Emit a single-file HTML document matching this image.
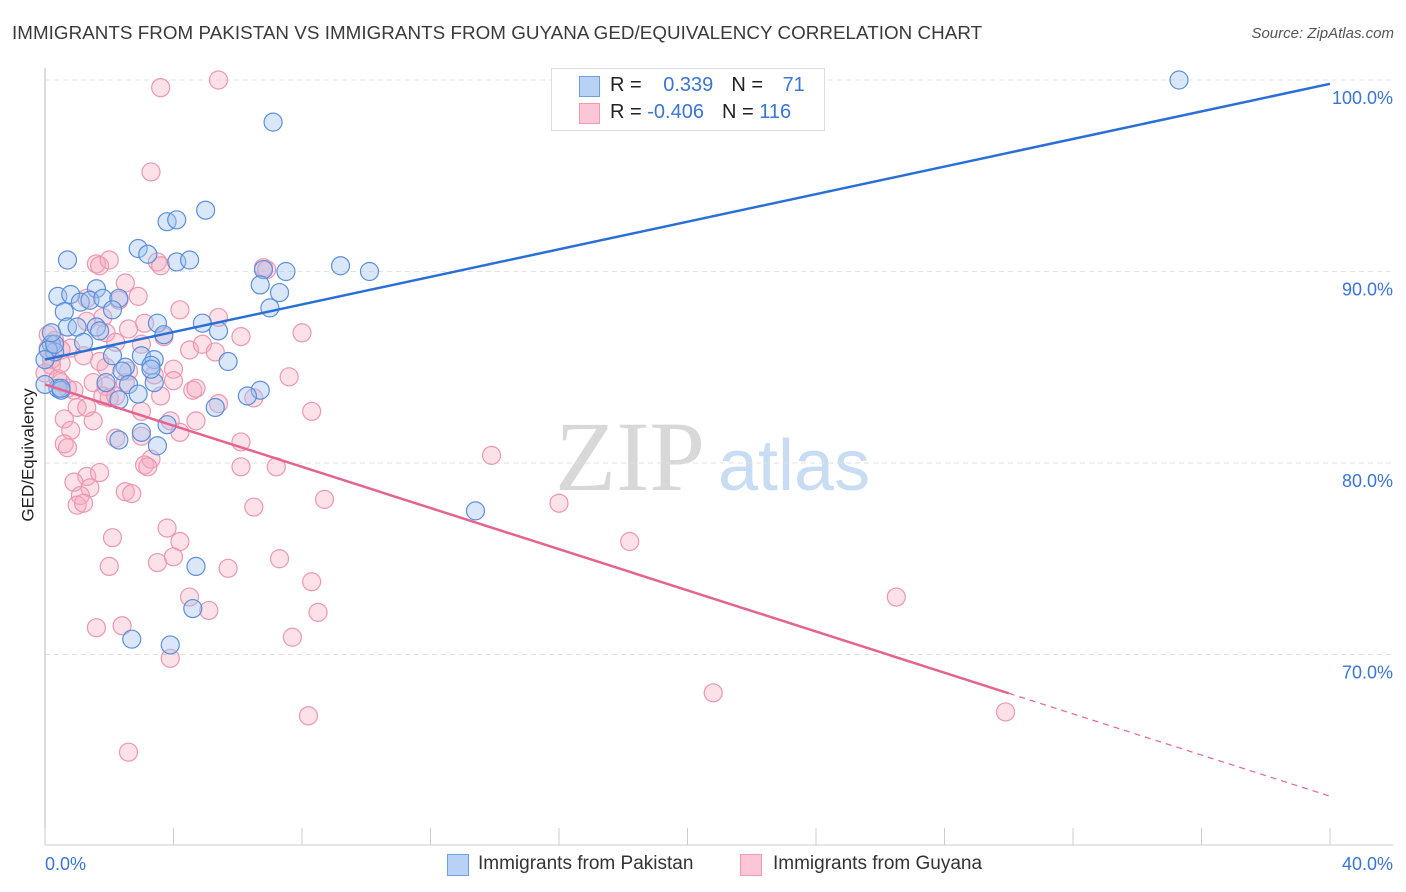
<!DOCTYPE html>
<html><head><meta charset="utf-8"><style>
body{margin:0;background:#fff;font-family:"Liberation Sans",sans-serif;}
#wrap{position:relative;width:1406px;height:892px;overflow:hidden}
.t{position:absolute;white-space:nowrap}
</style></head><body><div id="wrap">
<div class="t" style="left:12px;top:22px;font-size:18.8px;color:#3a3a3a;letter-spacing:0.05px">IMMIGRANTS FROM PAKISTAN VS IMMIGRANTS FROM GUYANA GED/EQUIVALENCY CORRELATION CHART</div>
<div class="t" style="right:12px;top:25px;font-size:15px;color:#555;font-style:italic">Source: ZipAtlas.com</div>
<div class="t" style="left:-38px;top:445px;font-size:17px;color:#222;transform:rotate(-90deg)">GED/Equivalency</div>
<svg id="svg" width="1406" height="892" style="position:absolute;left:0;top:0">
<text x="555" y="490" font-family="Liberation Serif,serif" font-size="100" fill="#d8d8d8">ZIP</text>
<text x="718" y="490" font-family="Liberation Sans,sans-serif" font-size="72" fill="#c8dcf3">atlas</text>
</svg>
<div style="position:absolute;left:551px;top:68px;width:272px;height:61px;border:1px solid #ddd;background:#fff"></div>
<div style="position:absolute;left:579px;top:76px;width:19px;height:19px;background:#b7d2f5;border:1px solid #6f9fe0"></div>
<div style="position:absolute;left:579px;top:103px;width:19px;height:19px;background:#fbc6d5;border:1px solid #ee9ab3"></div>
<div class="t" style="left:610px;top:74px;font-size:20px;color:#222">R = <span style="color:#3a74d4;margin-left:16px">0.339</span><span style="margin-left:18px">N = </span><span style="color:#3a74d4;margin-left:14px">71</span></div>
<div class="t" style="left:610px;top:101px;font-size:20px;color:#222">R = <span style="color:#3a74d4">-0.406</span><span style="margin-left:18px">N = </span><span style="color:#3a74d4">116</span></div>
<div style="position:absolute;left:447px;top:854px;width:20px;height:20px;background:#b7d2f5;border:1px solid #6f9fe0"></div>
<div class="t" style="left:478px;top:853px;font-size:19px;color:#333">Immigrants from Pakistan</div>
<div style="position:absolute;left:740px;top:854px;width:20px;height:20px;background:#fbc6d5;border:1px solid #ee9ab3"></div>
<div class="t" style="left:773px;top:853px;font-size:19px;color:#333">Immigrants from Guyana</div>
</div>
<script>
const yTicks=[100,90,80,70];
const xTickLabels=["0.0%","40.0%"];
const blueX=[16.4,35.3,7.1,5.0,3.8,4.1,2.9,3.2,0.7,4.1,4.5,9.2,7.5,10.1,6.8,0.4,0.8,1.6,1.1,1.4,1.8,2.3,2.1,0.6,7.3,6.7,7.0,4.9,5.4,3.5,3.7,0.7,1.0,1.6,1.2,0.2,0.3,2.1,3.0,3.4,5.7,2.5,3.3,2.4,1.9,2.6,3.4,0.4,0.5,6.7,6.3,5.3,2.3,2.9,3.8,3.0,2.3,3.5,13.4,4.7,4.6,2.7,3.9,0,0.1,0.3,0.5,0.2,3.3,1.7,0];
const blueY=[100,100,97.8,93.2,92.6,92.7,91.2,90.9,90.6,90.5,90.6,90.3,90.0,90.0,90.1,88.7,88.8,89.1,88.4,88.5,88.6,88.6,88.0,87.9,88.9,89.3,88.1,87.3,86.9,87.3,86.7,87.1,87.1,87.1,86.3,86.2,85.8,85.6,85.6,85.4,85.3,85.0,85.1,84.8,84.2,84.1,84.2,83.9,83.8,83.8,83.5,82.9,83.3,83.6,82.0,81.6,81.2,80.9,77.5,74.6,72.4,70.8,70.5,84.1,85.9,86.2,83.9,86.8,84.9,86.9,85.4];
const pinkX=[5.4,3.6,3.3,1.6,1.7,2.0,3.5,3.6,6.8,6.9,2.5,2.9,2.3,4.2,1.3,1.8,1.3,3.1,5.4,8.0,6.1,1.9,3.7,0.8,2.2,4.5,4.9,5.3,0.1,0.3,0.5,0.2,1.9,2.6,4.0,3.4,7.6,1.5,1.9,2.5,4.6,4.7,6.5,5.4,0.5,0.7,0.9,1.8,2.0,1.0,0.6,1.5,3.0,3.9,4.7,4.2,0.8,0.6,0.7,2.2,3.0,6.1,3.3,3.1,3.2,6.1,7.2,13.9,1.3,1.7,0.9,1.4,1.1,1.0,1.2,2.5,2.7,8.7,6.5,16.0,3.8,2.1,4.2,18.2,3.5,4.0,5.7,7.3,2.0,8.3,4.5,5.1,8.5,26.5,1.6,2.4,7.7,3.9,20.8,8.2,29.9,2.6,0.1,0.2,0,0.4,0.5,1.7,2.2,1.3,3.6,3.0,2.6,1.2,4.0,8.3];
const pinkY=[100,99.6,95.2,90.4,90.3,90.6,90.5,90.3,90.2,90.1,89.4,88.7,88.5,88.0,88.6,87.6,87.4,87.3,87.6,86.8,86.6,86.8,86.6,86.0,86.3,85.9,86.2,85.8,86.7,86.4,85.9,85.4,85.0,84.8,84.9,84.6,84.5,84.2,84.0,84.2,83.8,83.9,83.4,83.1,84.2,83.9,83.8,83.5,83.4,82.9,82.3,82.2,82.7,82.2,82.2,81.6,81.7,81.0,80.8,81.3,81.4,81.1,80.2,79.9,79.8,79.8,79.8,80.4,79.3,79.5,79.0,78.7,78.3,77.8,77.9,78.5,78.4,78.1,77.7,77.9,76.6,76.1,75.9,75.9,74.8,75.1,74.5,75.0,74.6,73.8,73.0,72.3,72.2,73.0,71.4,71.5,70.9,69.8,68.0,66.8,67.0,64.9,86.0,85.1,84.7,84.4,85.2,85.3,83.5,82.9,83.5,86.2,87.0,85.6,84.3,82.7];
const blueTrend=[85.4,99.8];   // y at x=0, x=40
const pinkTrend=[84.1,62.6];   // y at x=0, x=40
const pinkSolidEnd=30;
const NS="http://www.w3.org/2000/svg";
const svg=document.getElementById('svg');
const X=v=>45+v*32.125, Y=v=>80+(100-v)*19.15;
function mk(t,a){const e=document.createElementNS(NS,t);for(const k in a)e.setAttribute(k,a[k]);svg.appendChild(e);return e;}
yTicks.forEach(v=>{
 const g=mk('line',{x1:45,x2:1393,y1:Y(v),y2:Y(v),stroke:'#e2e2e2','stroke-dasharray':'5,4'});
 
 
 const t=mk('text',{x:1393,y:Y(v)+24,'text-anchor':'end','font-size':18,fill:'#3a74d4','font-family':'Liberation Sans,sans-serif'});
 t.textContent=v.toFixed(1)+'%';
 
 
});
const ax=mk('line',{x1:45,x2:45,y1:68,y2:845,stroke:'#bbb'});


const bx=mk('line',{x1:45,x2:1393,y1:845,y2:845,stroke:'#ccc'});


for(let i=0;i<=10;i++){const tk=mk('line',{x1:X(i*4),x2:X(i*4),y1:828,y2:845,stroke:'#ccc'});
 
 }
[[0,'start',45],[40,'end',1393]].forEach((d,i)=>{const t=mk('text',{x:d[2],y:870,'text-anchor':d[1],'font-size':18,fill:'#3a74d4','font-family':'Liberation Sans,sans-serif'});
 t.textContent=xTickLabels[i];
 
 });
function dots(xs,ys,fill,stroke,name){xs.forEach((x,i)=>{const c=mk('circle',{cx:X(x),cy:Y(ys[i]),r:9,fill:fill,stroke:stroke,'stroke-width':1.2});
 
 });}
dots(pinkX,pinkY,'rgba(246,168,192,0.35)','#eb97b1','point-guyana');
dots(blueX,blueY,'rgba(160,196,240,0.4)','#5b8fdb','point-pakistan');
const bl=mk('line',{x1:X(0),y1:Y(blueTrend[0]),x2:X(40),y2:Y(blueTrend[1]),stroke:'#2a6fd6','stroke-width':2.5});


const pAt=x=>pinkTrend[0]+(pinkTrend[1]-pinkTrend[0])*x/40;
const pl=mk('line',{x1:X(0),y1:Y(pAt(0)),x2:X(pinkSolidEnd),y2:Y(pAt(pinkSolidEnd)),stroke:'#e5648f','stroke-width':2.5});


const pd=mk('line',{x1:X(pinkSolidEnd),y1:Y(pAt(pinkSolidEnd)),x2:X(40),y2:Y(pAt(40)),stroke:'#e5648f','stroke-width':1.2,'stroke-dasharray':'6,5'});


</script>
</body></html>
